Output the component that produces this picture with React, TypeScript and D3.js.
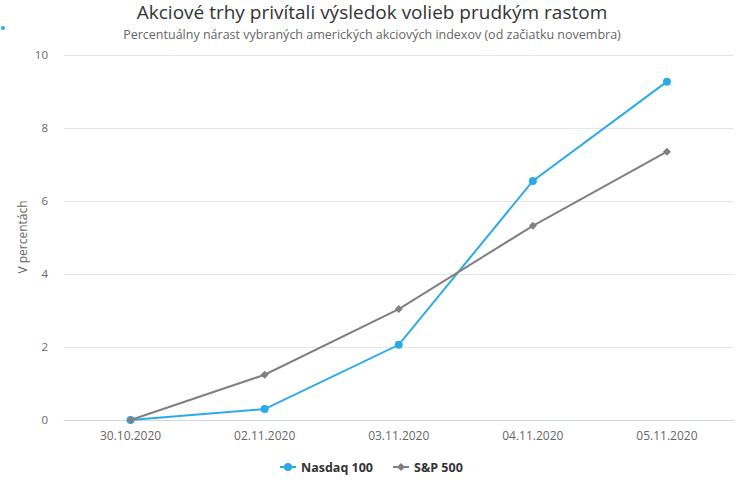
import React from "react";
import * as d3 from "d3";

const categories = ["30.10.2020", "02.11.2020", "03.11.2020", "04.11.2020", "05.11.2020"];
const nasdaq = [0, 0.3, 2.06, 6.55, 9.27];
const sp500 = [0, 1.24, 3.04, 5.32, 7.35];
const yTicks = [0, 2, 4, 6, 8, 10];

const W = 744;
const H = 500;
const FONT = "'Open Sans', 'DejaVu Sans', sans-serif";

function diamondPath(r: number) {
  const p = d3.path();
  p.moveTo(0, -r);
  p.lineTo(r, 0);
  p.lineTo(0, r);
  p.lineTo(-r, 0);
  p.closePath();
  return p.toString();
}

export default function App() {
  const x = d3.scaleBand<string>().domain(categories).range([63.5, 734]);
  const y = d3.scaleLinear().domain([0, 10]).range([420, 55]);
  const cx = (c: string) => (x(c) as number) + x.bandwidth() / 2;
  const line = d3
    .line<number>()
    .x((_, i) => cx(categories[i]))
    .y((d) => y(d));
  const blue = "#2caae8";
  const grey = "#808080";
  const dia = diamondPath(4);

  return (
    <svg width={W} height={H} style={{ position: "absolute", left: 0, top: 0, fontFamily: FONT }}>
      <rect width={W} height={H} fill="#fff" />
      <circle cx={3} cy={28} r={2} fill="#2caae8" />
      <text x={372} y={19} textAnchor="middle" fontSize={19} fill="#333">
        Akciové trhy privítali výsledok volieb prudkým rastom
      </text>
      <text x={372} y={39} textAnchor="middle" fontSize={12.5} fill="#666">
        Percentuálny nárast vybraných amerických akciových indexov (od začiatku novembra)
      </text>
      {yTicks.map((t) => (
        <g key={t}>
          {t !== 0 && (
            <line x1={63.5} x2={734} y1={y(t) + 0.5} y2={y(t) + 0.5} stroke="#e6e6e6" />
          )}
          <text x={48} y={y(t) + 4} textAnchor="end" fontSize={11.5} fill="#666">
            {t}
          </text>
        </g>
      ))}
      <line x1={63.5} x2={734} y1={420.5} y2={420.5} stroke="#ccd6eb" />
      <text
        transform={`translate(27,${237}) rotate(-90)`}
        textAnchor="middle"
        fontSize={12}
        fill="#666"
      >
        V percentách
      </text>
      {categories.map((c) => (
        <text key={c} x={cx(c)} y={439.5} textAnchor="middle" fontSize={12} fill="#666">
          {c}
        </text>
      ))}
      <path d={line(nasdaq) || ""} fill="none" stroke={blue} strokeWidth={2} />
      {nasdaq.map((v, i) => (
        <circle key={i} cx={cx(categories[i])} cy={y(v)} r={4} fill={blue} />
      ))}
      <path d={line(sp500) || ""} fill="none" stroke={grey} strokeWidth={2} />
      {sp500.map((v, i) => (
        <path key={i} d={dia} transform={`translate(${cx(categories[i])},${y(v)})`} fill={grey} />
      ))}
      <g transform="translate(0,467)">
        <line x1={280} x2={296} y1={0} y2={0} stroke={blue} strokeWidth={2} />
        <circle cx={288} cy={0} r={4} fill={blue} />
        <text x={301} y={4.5} fontSize={12.5} fontWeight="bold" fill="#333">
          Nasdaq 100
        </text>
        <line x1={393} x2={409} y1={0} y2={0} stroke={grey} strokeWidth={2} />
        <path d={dia} transform="translate(401,0)" fill={grey} />
        <text x={414} y={4.5} fontSize={12.5} fontWeight="bold" fill="#333">
          S&amp;P 500
        </text>
      </g>
    </svg>
  );
}
